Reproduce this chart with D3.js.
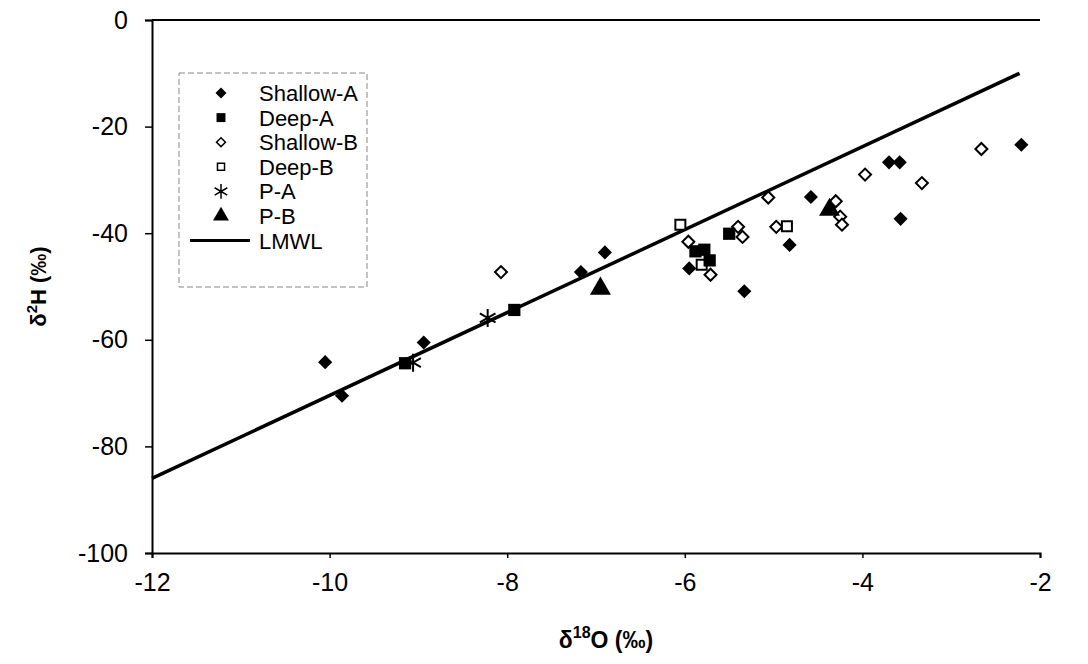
<!DOCTYPE html>
<meta charset="utf-8">
<style>
    body { margin: 0; background: #fff; }
    .tick text { font-family: Arial, "Liberation Sans", sans-serif; font-size: 25px; fill: #000; }
    .legend text { font-family: Arial, "Liberation Sans", sans-serif; font-size: 22px; }
</style>
<svg width="1088" height="664"></svg>
<script src="https://d3js.org/d3.v7.min.js"></script>
<script>
    // values (d18O, d2H)
    var shallowA = [[-10.05,-64.2],[-9.86,-70.5],[-8.94,-60.5],[-7.17,-47.3],[-6.9,-43.6],[-5.95,-46.6],
                    [-5.33,-50.9],[-4.82,-42.2],[-4.58,-33.2],[-3.7,-26.7],[-3.58,-26.7],[-3.57,-37.3],[-2.21,-23.4]];
    var deepA = [[-9.15,-64.4],[-7.92,-54.4],[-5.88,-43.4],[-5.78,-43.1],[-5.72,-45.1],[-5.5,-40.1]];
    var shallowB = [[-8.07,-47.3],[-5.96,-41.6],[-5.71,-47.8],[-5.4,-38.8],[-5.35,-40.7],[-5.06,-33.3],
                    [-4.97,-38.8],[-4.3,-34.0],[-4.25,-36.9],[-4.23,-38.4],[-3.97,-29.0],[-3.33,-30.6],[-2.66,-24.2]];
    var deepB = [[-6.05,-38.4],[-5.81,-45.9],[-4.85,-38.7]];
    var pA = [[-9.06,-64.3],[-8.22,-55.9]];
    var pB = [[-6.95,-50.4],[-4.37,-35.6]];
    var lmwlX = [-12, -2.23];
    var lmwlY = [-86, -10];

    var xTicks = [-12, -10, -8, -6, -4, -2];
    var yTicks = [0, -20, -40, -60, -80, -100];
    var seriesNames = ["Shallow-A", "Deep-A", "Shallow-B", "Deep-B", "P-A", "P-B", "LMWL"];

    var svg = d3.select("svg");
    var mLeft = 152, mTop = 20, mRight = 1040, mBottom = 553;

    var x = d3.scaleLinear().domain([-12, -2]).range([mLeft, mRight]);
    var y = d3.scaleLinear().domain([-100, 0]).range([mBottom, mTop]);

    var fmt = function (d) { return String(d); };  // plain hyphen like the original

    // axes
    var xAxis = svg.append("g")
        .attr("transform", "translate(0," + mBottom + ")")
        .call(d3.axisBottom(x).tickValues(xTicks).tickSize(5).tickPadding(15).tickFormat(fmt));
    var yAxis = svg.append("g")
        .attr("transform", "translate(" + mLeft + ",0)")
        .call(d3.axisLeft(y).tickValues(yTicks).tickSize(7).tickPadding(17).tickFormat(fmt));
    [xAxis, yAxis].forEach(function (a) {
        a.select(".domain").attr("stroke", "#000").attr("stroke-width", 2);
        a.selectAll(".tick line").attr("stroke", "#000").attr("stroke-width", 1.5);
    });

    // top frame line
    svg.append("line")
        .attr("x1", mLeft).attr("x2", mRight)
        .attr("y1", mTop).attr("y2", mTop)
        .attr("stroke", "#000").attr("stroke-width", 2);

    // LMWL
    svg.append("line")
        .attr("x1", x(lmwlX[0])).attr("y1", y(lmwlY[0]))
        .attr("x2", x(lmwlX[1])).attr("y2", y(lmwlY[1]))
        .attr("stroke", "#000").attr("stroke-width", 3.5);

    var diamond = d3.symbol().type(d3.symbolSquare).size(100);
    var diamondOpen = d3.symbol().type(d3.symbolSquare).size(72);
    var square = d3.symbol().type(d3.symbolSquare).size(150);
    var squareOpen = d3.symbol().type(d3.symbolSquare).size(100);
    var tri = d3.symbol().type(d3.symbolTriangle).size(190);
    var star = d3.symbol().type(d3.symbolAsterisk).size(230);

    var styles = {
        "Shallow-A": { path: diamond, rot: 45, fill: "#000", stroke: "none", data: shallowA },
        "Deep-A": { path: square, rot: 0, fill: "#000", stroke: "none", data: deepA },
        "Shallow-B": { path: diamondOpen, rot: 45, fill: "#fff", stroke: "#000", data: shallowB },
        "Deep-B": { path: squareOpen, rot: 0, fill: "#fff", stroke: "#000", data: deepB },
        "P-A": { path: star, rot: 0, fill: "none", stroke: "#000", data: pA },
        "P-B": { path: tri, rot: 0, fill: "#000", stroke: "none", data: pB }
    };

    var order = ["Shallow-B", "Deep-B", "Shallow-A", "Deep-A", "P-B", "P-A"];
    order.forEach(function (name) {
        var s = styles[name];
        svg.append("g").selectAll("path")
            .data(s.data)
            .enter().append("path")
            .attr("d", s.path)
            .attr("transform", function (d) {
                return "translate(" + x(d[0]) + "," + y(d[1]) + ") rotate(" + s.rot + ")";
            })
            .attr("fill", s.fill)
            .attr("stroke", s.stroke)
            .attr("stroke-width", 2);
    });

    // legend
    var lg = svg.append("g").attr("class", "legend");
    lg.append("rect")
        .attr("x", 179).attr("y", 73).attr("width", 188).attr("height", 214)
        .attr("fill", "#fff").attr("stroke", "#888").attr("stroke-width", 1)
        .attr("stroke-dasharray", "6,3");
    var smallSym = {
        "Shallow-A": d3.symbol().type(d3.symbolSquare).size(60),
        "Deep-A": d3.symbol().type(d3.symbolSquare).size(80),
        "Shallow-B": d3.symbol().type(d3.symbolSquare).size(40),
        "Deep-B": d3.symbol().type(d3.symbolSquare).size(50),
        "P-A": d3.symbol().type(d3.symbolAsterisk).size(150),
        "P-B": d3.symbol().type(d3.symbolTriangle).size(110)
    };
    seriesNames.forEach(function (name, i) {
        var cy = 93 + i * 24.6;
        if (name === "LMWL") {
            lg.append("line").attr("x1", 190).attr("x2", 250).attr("y1", cy).attr("y2", cy)
                .attr("stroke", "#000").attr("stroke-width", 3);
        } else {
            var s = styles[name];
            lg.append("path")
                .attr("d", smallSym[name])
                .attr("transform", "translate(221," + cy + ") rotate(" + s.rot + ")")
                .attr("fill", s.fill).attr("stroke", s.stroke).attr("stroke-width", 1.5);
        }
        lg.append("text").attr("x", 259).attr("y", cy).attr("dy", "0.36em").text(name);
    });

    // axis titles
    var yt = svg.append("text")
        .attr("transform", "translate(46," + ((mTop + mBottom) / 2) + ") rotate(-90)")
        .attr("text-anchor", "middle")
        .style("font-family", "Arial, 'Liberation Sans', sans-serif")
        .style("font-size", "22px").style("font-weight", "bold");
    yt.append("tspan").text("δ");
    yt.append("tspan").attr("dy", -9).style("font-size", "15px").text("2");
    yt.append("tspan").attr("dy", 9).text("H (‰)");

    var xt = svg.append("text")
        .attr("x", (mLeft + mRight) / 2 + 10).attr("y", 648)
        .attr("text-anchor", "middle")
        .style("font-family", "Arial, 'Liberation Sans', sans-serif")
        .style("font-size", "23px").style("font-weight", "bold");
    xt.append("tspan").text("δ");
    xt.append("tspan").attr("dy", -10).style("font-size", "16px").text("18");
    xt.append("tspan").attr("dy", 10).text("O (‰)");
</script>
